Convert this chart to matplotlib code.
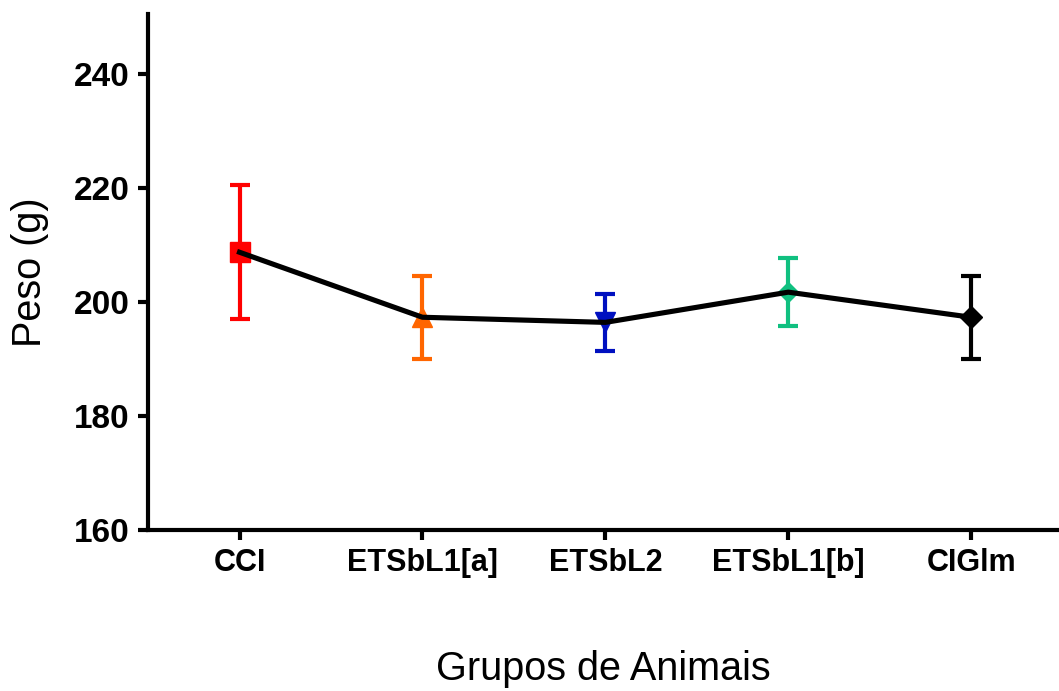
import numpy as np
import matplotlib.pyplot as plt

# Peso médio (g) e erro padrão por grupo
grupos = ['CCI', 'ETSbL1[a]', 'ETSbL2', 'ETSbL1[b]', 'CIGlm']
peso_medio = [208.7, 197.3, 196.4, 201.7, 197.3]
erro = [11.7, 7.3, 5.0, 6.0, 7.3]
cores = ['#FF0000', '#FF6600', '#0010C0', '#10C080', '#000000']
marcadores = ['s', '^', 'v', 'D', 'D']
tamanhos = [14, 14, 14, 10, 11]

plt.rcParams['font.family'] = ['Liberation Sans', 'DejaVu Sans']

fig = plt.figure(figsize=(10.59, 6.91), dpi=100)
ax = fig.add_axes([0.1398, 0.233, 0.8602, 0.747])

x = np.arange(len(grupos))

# Barras de erro e marcadores de cada grupo
for i in range(len(grupos)):
    ax.errorbar(x[i], peso_medio[i], yerr=erro[i], fmt=marcadores[i],
                color=cores[i], markersize=tamanhos[i], elinewidth=3,
                capsize=7.5, capthick=3, zorder=2)

# Linha ligando as médias
ax.plot(x, peso_medio, color='black', linewidth=3.7, zorder=3)

ax.set_xlim(-0.5, 4.48)
ax.set_ylim(160, 250.5)
ax.set_yticks([160, 180, 200, 220, 240])
ax.set_xticks(x)
ax.set_xticklabels(grupos)

for lado in ['top', 'right']:
    ax.spines[lado].set_visible(False)
for lado in ['left', 'bottom']:
    ax.spines[lado].set_linewidth(3)

ax.tick_params(axis='both', direction='out', length=7, width=3, pad=6)
ax.tick_params(axis='x', labelsize=22)
ax.tick_params(axis='y', labelsize=24)
for rotulo in ax.get_xticklabels() + ax.get_yticklabels():
    rotulo.set_fontweight('bold')

ax.set_ylabel('Peso (g)', fontsize=28.5)
ax.yaxis.set_label_coords(-0.1085, 0.5)
ax.set_xlabel('Grupos de Animais', fontsize=28.5, labelpad=52)

plt.savefig('out.png', dpi=100)
